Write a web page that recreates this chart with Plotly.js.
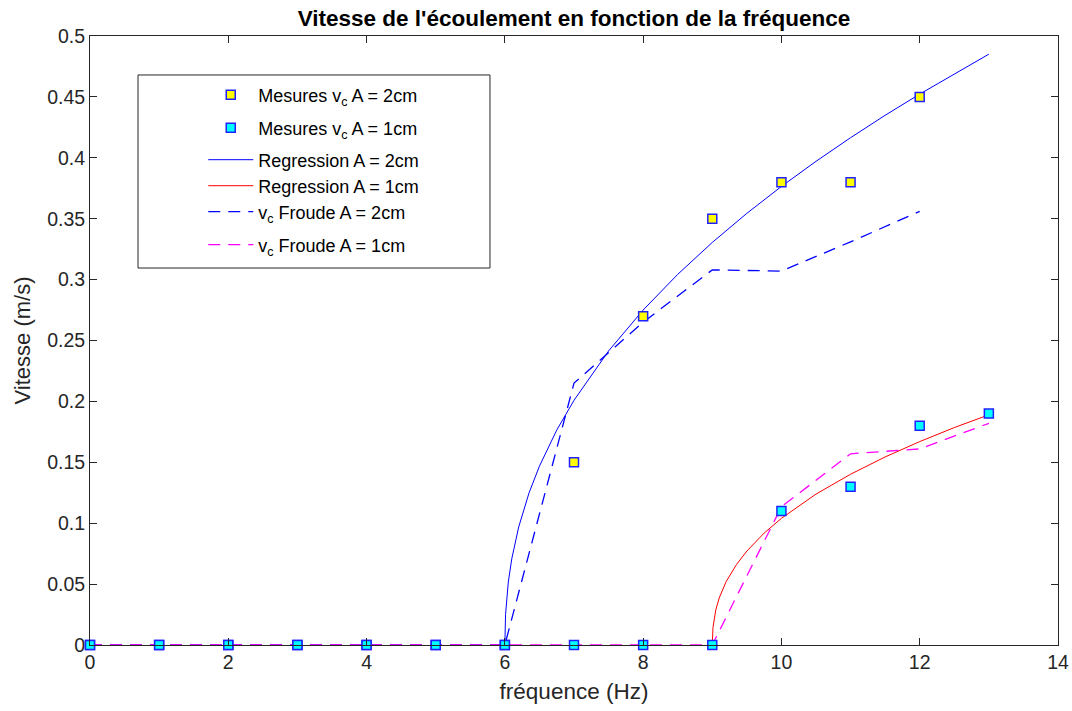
<!DOCTYPE html>
<html>
<head>
<meta charset="utf-8">
<script src="https://cdn.plot.ly/plotly-3.0.1.min.js"></script>
<style>html,body{margin:0;padding:0;background:#fff;}#chart{width:1072px;height:711px;}</style>
</head>
<body>
<div id="chart"></div>
<script>
// Measured data
const freqMes2 = [0, 1, 2, 3, 4, 5, 6, 7, 8, 9, 10, 11, 12];
const vMes2    = [0, 0, 0, 0, 0, 0, 0, 0.15, 0.27, 0.35, 0.38, 0.38, 0.45];
const freqMes1 = [0, 1, 2, 3, 4, 5, 6, 7, 8, 9, 10, 11, 12, 13];
const vMes1    = [0, 0, 0, 0, 0, 0, 0, 0, 0, 0, 0.11, 0.13, 0.18, 0.19];

// Regression curves
const freqReg2 = [6, 6.01, 6.05, 6.1, 6.2, 6.35, 6.5, 6.75, 7, 7.5, 8, 8.5, 9, 9.5, 10, 10.5, 11, 11.5, 12, 12.5, 13];
const vReg2    = [0, 0.025, 0.0517, 0.0708, 0.0969, 0.1249, 0.1468, 0.1764, 0.2009, 0.2414, 0.275, 0.3043, 0.3305, 0.3544, 0.3765, 0.3971, 0.4165, 0.4349, 0.4523, 0.469, 0.4851];
const freqReg1 = [9, 9.01, 9.05, 9.1, 9.2, 9.35, 9.5, 9.75, 10, 10.5, 11, 11.5, 12, 12.5, 13];
const vReg1    = [0, 0.0143, 0.0286, 0.0386, 0.052, 0.0661, 0.0771, 0.0919, 0.104, 0.1239, 0.1402, 0.1544, 0.167, 0.1785, 0.189];

// Froude estimates
const freqFr2 = [0, 1, 2, 3, 4, 5, 6, 7, 8, 9, 10, 11, 12];
const vFr2    = [0, 0, 0, 0, 0, 0, 0, 0.215, 0.265, 0.308, 0.307, 0.331, 0.356];
const freqFr1 = [0, 1, 2, 3, 4, 5, 6, 7, 8, 9, 10, 11, 12, 13];
const vFr1    = [0, 0, 0, 0, 0, 0, 0, 0, 0, 0, 0.1135, 0.157, 0.161, 0.182];

// Axis ticks
const xTicks = [0, 2, 4, 6, 8, 10, 12, 14];
const yTicks = [0, 0.05, 0.1, 0.15, 0.2, 0.25, 0.3, 0.35, 0.4, 0.45, 0.5];
const yTickText = ['0', '0.05', '0.1', '0.15', '0.2', '0.25', '0.3', '0.35', '0.4', '0.45', '0.5'];

const names = [
  'Mesures v<sub>c</sub> A = 2cm',
  'Mesures v<sub>c</sub> A = 1cm',
  'Regression A = 2cm',
  'Regression A = 1cm',
  'v<sub>c</sub> Froude A = 2cm',
  'v<sub>c</sub> Froude A = 1cm'
];

const traces = [
  {x: freqReg2, y: vReg2, mode: 'lines', name: names[2], legend: 'legend3',
   line: {color: '#0000ff', width: 1}},
  {x: freqReg1, y: vReg1, mode: 'lines', name: names[3], legend: 'legend4',
   line: {color: '#ff0000', width: 1}},
  {x: freqFr2, y: vFr2, mode: 'lines', name: names[4], legend: 'legend5',
   line: {color: '#0000ff', width: 1.3, dash: '12px,8px'}},
  {x: freqFr1, y: vFr1, mode: 'lines', name: names[5], legend: 'legend6',
   line: {color: '#ff00ff', width: 1.3, dash: '12px,8px'}},
  {x: freqMes2, y: vMes2, mode: 'markers', name: names[0], legend: 'legend',
   marker: {symbol: 'square', size: 9, color: '#ffff00', line: {color: '#2020ff', width: 1.5}}},
  {x: freqMes1, y: vMes1, mode: 'markers', name: names[1], legend: 'legend2',
   marker: {symbol: 'square', size: 9, color: '#00ffff', line: {color: '#2020ff', width: 1.5}}}
];
traces.forEach(t => { t.cliponaxis = false; t.type = 'scatter'; });

const axisCommon = {
  showline: true, linecolor: '#262626', linewidth: 1, mirror: 'ticks',
  ticks: 'inside', ticklen: 7, tickcolor: '#262626', tickwidth: 1,
  showgrid: false, zeroline: false,
  tickfont: {family: 'Liberation Sans, Arial, sans-serif', size: 19.5, color: '#262626'}
};

function legendAt(yPaper) {
  return {
    x: 0.117, y: yPaper, xanchor: 'left', yanchor: 'middle',
    bgcolor: 'rgba(0,0,0,0)', borderwidth: 0,
    font: {size: 18, color: '#000000'},
    itemwidth: 45
  };
}

const layout = {
  width: 1072, height: 711,
  margin: {l: 90, r: 14, t: 36, b: 66},
  paper_bgcolor: '#ffffff', plot_bgcolor: '#ffffff',
  font: {family: 'Liberation Sans, Arial, sans-serif', color: '#262626'},
  title: {text: '<b>Vitesse de l\'écoulement en fonction de la fréquence</b>',
          font: {size: 22.5, color: '#000000'}, xref: 'paper', x: 0.5, xanchor: 'center',
          yref: 'container', y: 0.975, yanchor: 'middle'},
  xaxis: Object.assign({}, axisCommon, {
    range: [0, 14], tickvals: xTicks, ticktext: xTicks.map(String),
    title: {text: 'fréquence (Hz)', font: {size: 22.5, color: '#262626'}, standoff: 10}
  }),
  yaxis: Object.assign({}, axisCommon, {
    range: [0, 0.5], tickvals: yTicks, ticktext: yTickText,
    title: {text: 'Vitesse (m/s)', font: {size: 22, color: '#262626'}, standoff: 10}
  }),
  showlegend: true,
  legend:  legendAt(0.9031),
  legend2: legendAt(0.8489),
  legend3: legendAt(0.7964),
  legend4: legendAt(0.7537),
  legend5: legendAt(0.7110),
  legend6: legendAt(0.6568),
  shapes: [{
    type: 'rect', xref: 'paper', yref: 'paper',
    x0: 0.0496, x1: 0.4132, y0: 0.619, y1: 0.936,
    line: {color: '#262626', width: 1}, fillcolor: 'rgba(0,0,0,0)', layer: 'below'
  }]
};

Plotly.newPlot('chart', traces, layout, {displayModeBar: false, staticPlot: true});
</script>
</body>
</html>
